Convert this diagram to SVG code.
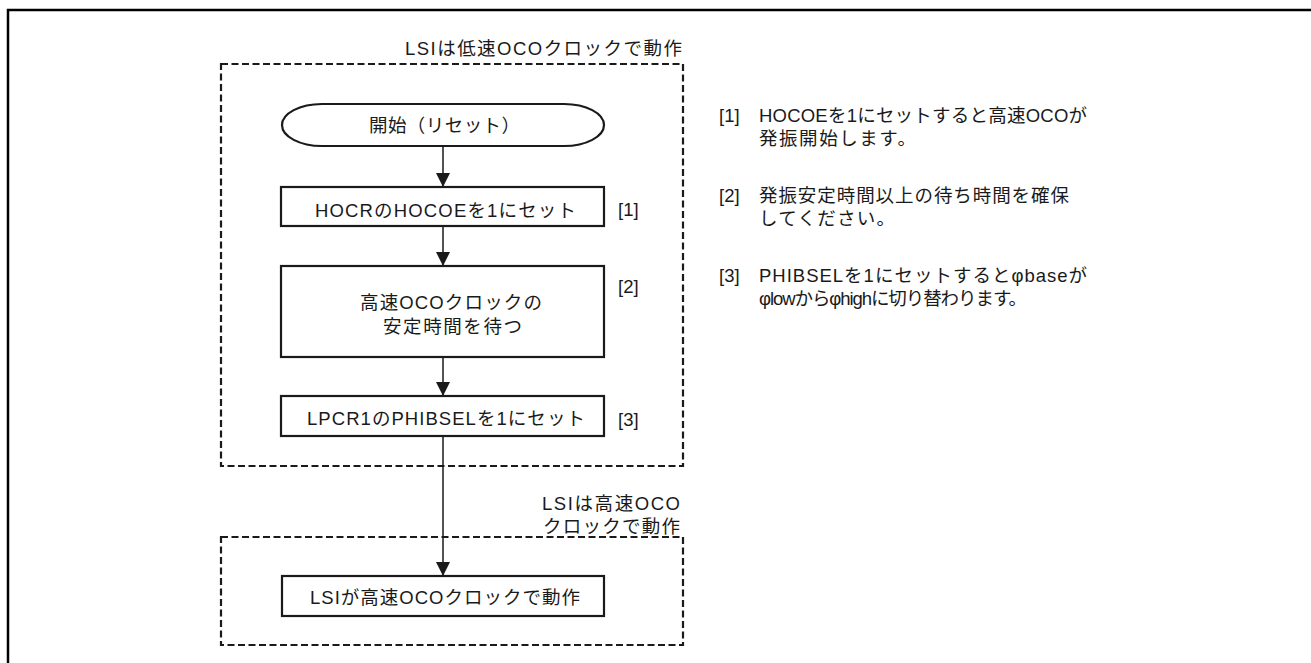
<svg xmlns="http://www.w3.org/2000/svg" width="1311" height="663" viewBox="0 0 1311 663">
<style>
text{font-family:"Liberation Sans","Noto Sans CJK JP",sans-serif;font-size:18.5px;fill:#1a1a1a}
.box{fill:#fff;stroke:#1a1a1a;stroke-width:2.2}
.dash{fill:none;stroke:#1a1a1a;stroke-width:2.2;stroke-dasharray:7 3.5}
.conn{fill:none;stroke:#1a1a1a;stroke-width:1.5}
</style>
<defs>
<marker id="arr" markerUnits="userSpaceOnUse" markerWidth="14" markerHeight="14" viewBox="0 0 14 14" refX="14" refY="7" orient="auto">
<path d="M0,0 L14,7 L0,14 Z" fill="#1a1a1a"/>
</marker>
</defs>
<rect x="0" y="0" width="1311" height="663" fill="#fff"/>
<rect id="frame" x="8" y="10" width="1320" height="680" fill="none" stroke="#000" stroke-width="2.5"/>

<g id="region-low">
<rect class="dash" x="221" y="64" width="462" height="402"/>
<text x="405" y="55" textLength="277" lengthAdjust="spacing">LSIは低速OCOクロックで動作</text>
</g>
<g id="region-high">
<rect class="dash" x="221" y="537" width="462" height="108"/>
<text x="542" y="510" textLength="138" lengthAdjust="spacing">LSIは高速OCO</text>
<text x="543" y="533" textLength="137" lengthAdjust="spacing">クロックで動作</text>
</g>

<g id="connectors">
<line class="conn" x1="443" y1="147" x2="443" y2="187" marker-end="url(#arr)"/>
<line class="conn" x1="443" y1="226" x2="443" y2="266" marker-end="url(#arr)"/>
<line class="conn" x1="443" y1="357" x2="443" y2="396" marker-end="url(#arr)"/>
<line class="conn" x1="443" y1="436" x2="443" y2="576" marker-end="url(#arr)"/>
</g>

<g id="start">
<rect class="box" x="282" y="104" width="322" height="42" rx="40" ry="21"/>
<text x="369" y="132" textLength="151" lengthAdjust="spacing">開始（リセット）</text>
</g>
<g id="step1">
<rect class="box" x="281" y="187" width="323" height="39"/>
<text x="315" y="217" textLength="261" lengthAdjust="spacing">HOCRのHOCOEを1にセット</text>
<text x="618" y="216">[1]</text>
</g>
<g id="step2">
<rect class="box" x="281" y="266" width="323" height="91"/>
<text x="360" y="309" textLength="182" lengthAdjust="spacing">高速OCOクロックの</text>
<text x="383" y="333" textLength="139" lengthAdjust="spacing">安定時間を待つ</text>
<text x="618" y="293">[2]</text>
</g>
<g id="step3">
<rect class="box" x="281" y="396" width="323" height="40"/>
<text x="307" y="425" textLength="278" lengthAdjust="spacing">LPCR1のPHIBSELを1にセット</text>
<text x="618" y="426">[3]</text>
</g>
<g id="step4">
<rect class="box" x="282" y="576" width="322" height="40"/>
<text x="310" y="604" textLength="270" lengthAdjust="spacing">LSIが高速OCOクロックで動作</text>
</g>

<g id="notes">
<text x="719" y="122">[1]</text>
<text x="759" y="122" textLength="328" lengthAdjust="spacing">HOCOEを1にセットすると高速OCOが</text>
<text x="759" y="145" textLength="157" lengthAdjust="spacing">発振開始します。</text>
<text x="719" y="202">[2]</text>
<text x="759" y="202" textLength="310" lengthAdjust="spacing">発振安定時間以上の待ち時間を確保</text>
<text x="759" y="225" textLength="136" lengthAdjust="spacing">してください。</text>
<text x="719" y="282">[3]</text>
<text x="759" y="282" textLength="328" lengthAdjust="spacing">PHIBSELを1にセットするとφbaseが</text>
<text x="759" y="305" textLength="268" lengthAdjust="spacing">φlowからφhighに切り替わります。</text>
</g>
</svg>
